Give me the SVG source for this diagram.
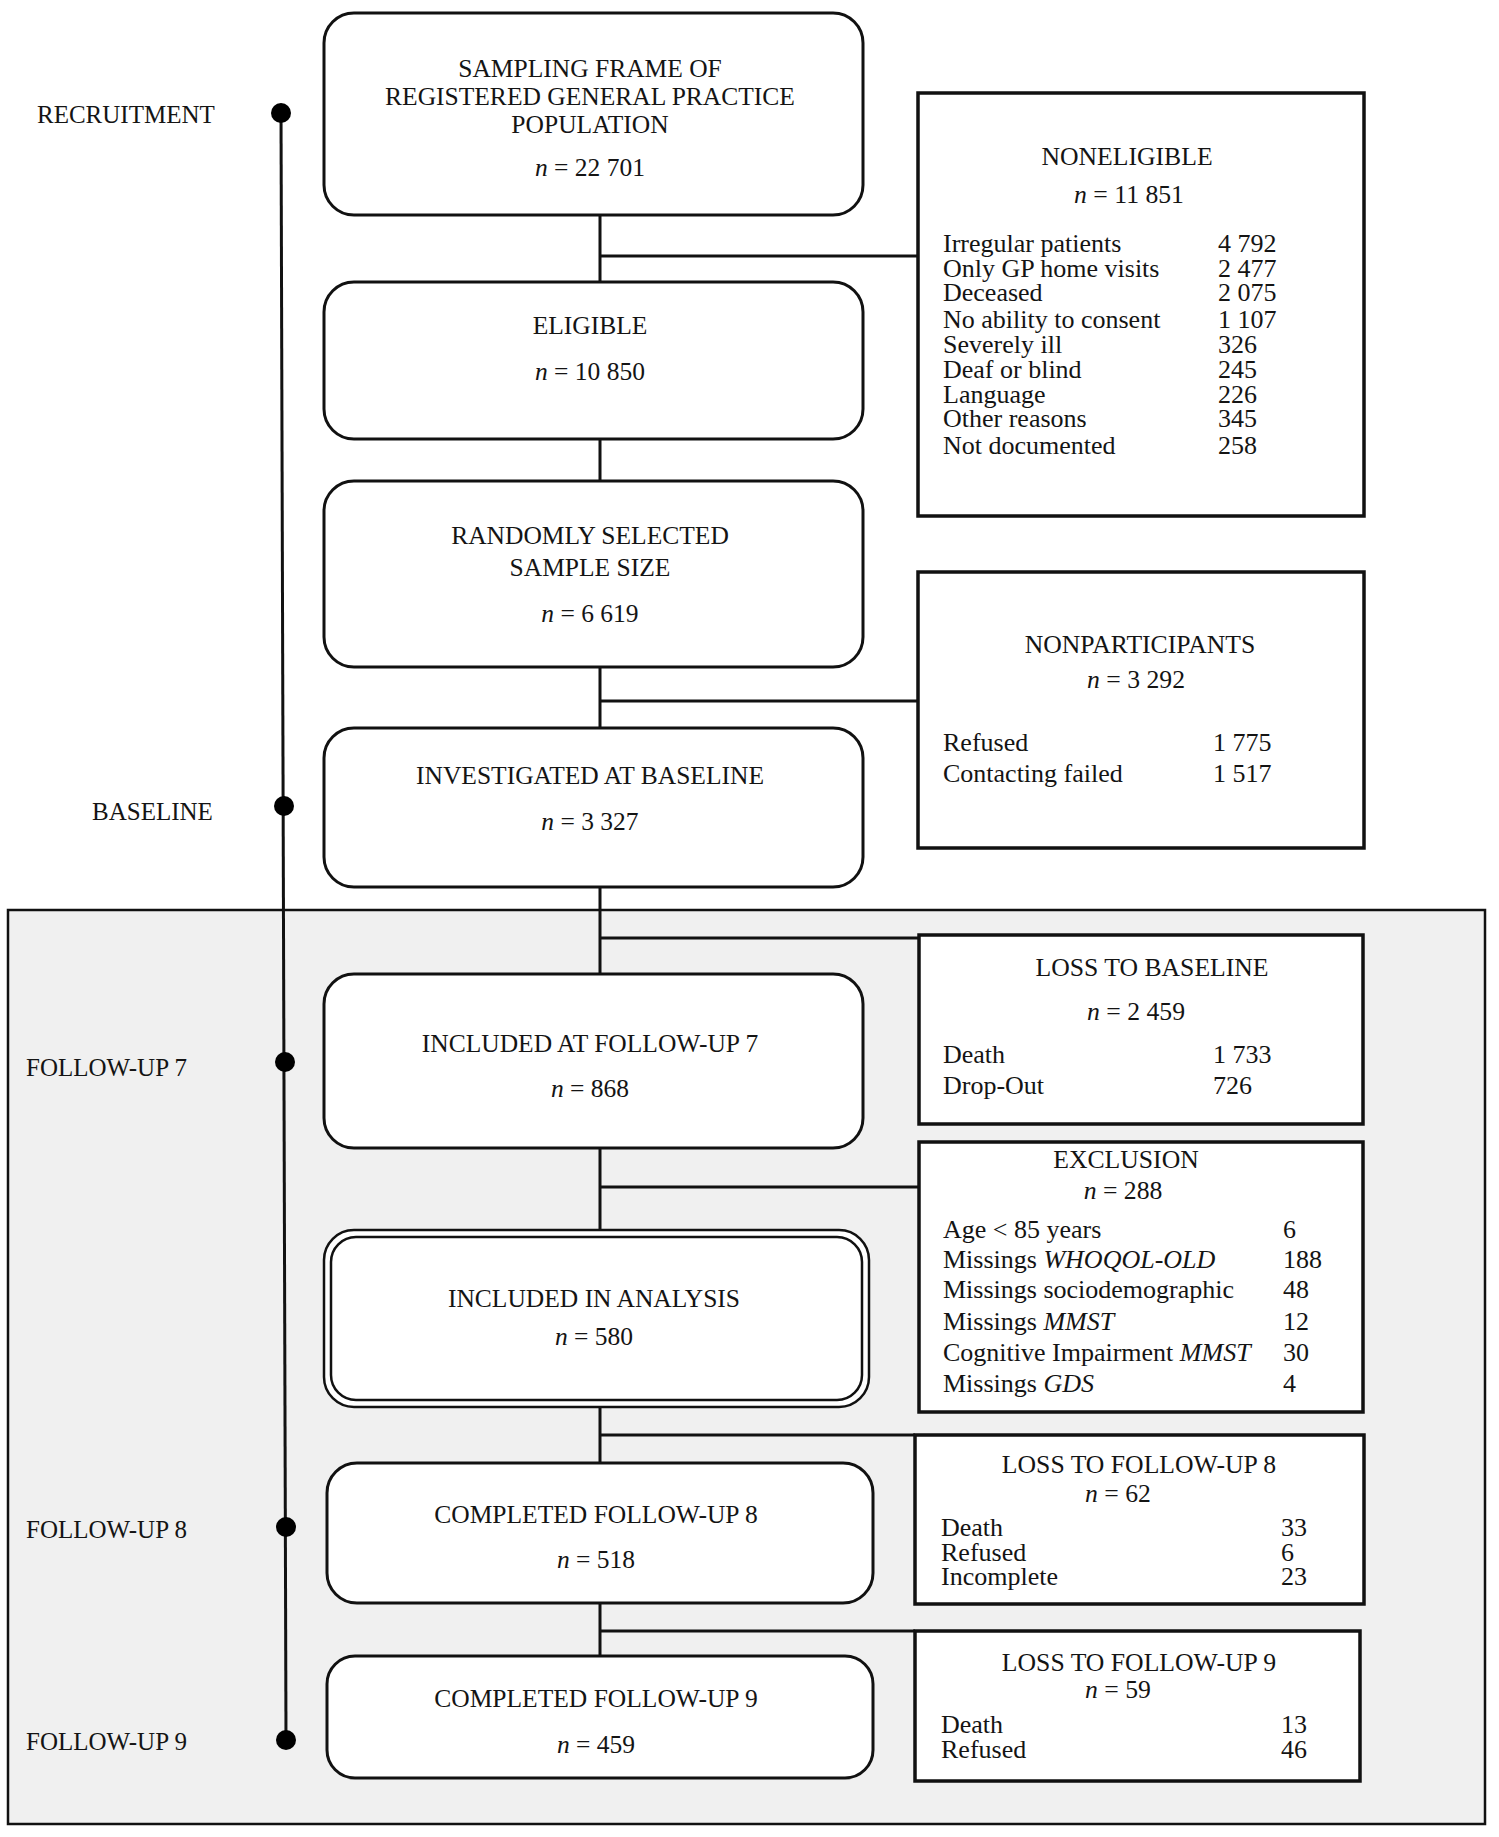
<svg xmlns="http://www.w3.org/2000/svg" width="1499" height="1837" viewBox="0 0 1499 1837">
<style>
text{font-family:"Liberation Serif","Times New Roman",serif;fill:#141414}
.m{font-size:25.5px;text-anchor:middle}
.t{font-size:25.7px;text-anchor:middle}
.i{font-size:26px}
.l{font-size:25px}
.it{font-style:italic}
.node{fill:#fff;stroke:#111;stroke-width:3}
.side{fill:#fff;stroke:#111;stroke-width:3.5}
.con{stroke:#111;stroke-width:3;fill:none}
</style>
<rect id="panel" x="8" y="910" width="1477" height="914" fill="#f0f0f0" stroke="#111" stroke-width="2.5"/>
<g id="timeline">
<line x1="281" y1="113" x2="286" y2="1740" stroke="#111" stroke-width="3"/>
<circle cx="281" cy="113" r="10" fill="#000"/>
<circle cx="284" cy="806" r="10" fill="#000"/>
<circle cx="285" cy="1062" r="10" fill="#000"/>
<circle cx="286" cy="1527" r="10" fill="#000"/>
<circle cx="286" cy="1740" r="10" fill="#000"/>
<text class="l" x="37" y="123">RECRUITMENT</text>
<text class="l" x="92" y="820">BASELINE</text>
<text class="l" x="26" y="1076">FOLLOW-UP 7</text>
<text class="l" x="26" y="1538">FOLLOW-UP 8</text>
<text class="l" x="26" y="1750">FOLLOW-UP 9</text>
</g>
<g id="connectors">
<path class="con" d="M600 214V281M600 256H918M600 440V481M600 667V728M600 701H918M600 887V974M600 938H919M600 1148V1229M600 1187H919M600 1408V1463M600 1435H915M600 1603V1656M600 1631H915"/>
</g>
<g id="n1">
<rect class="node" x="324" y="13" width="539" height="202" rx="30"/>
<text class="m" x="590" y="77">SAMPLING FRAME OF</text>
<text class="m" x="590" y="105">REGISTERED GENERAL PRACTICE</text>
<text class="m" x="590" y="133">POPULATION</text>
<text class="m" x="590" y="176"><tspan class="it">n</tspan> = 22 701</text>
</g>
<g id="n2">
<rect class="node" x="324" y="282" width="539" height="157" rx="30"/>
<text class="m" x="590" y="334">ELIGIBLE</text>
<text class="m" x="590" y="380"><tspan class="it">n</tspan> = 10 850</text>
</g>
<g id="n3">
<rect class="node" x="324" y="481" width="539" height="186" rx="30"/>
<text class="m" x="590" y="544">RANDOMLY SELECTED</text>
<text class="m" x="590" y="576">SAMPLE SIZE</text>
<text class="m" x="590" y="622"><tspan class="it">n</tspan> = 6 619</text>
</g>
<g id="n4">
<rect class="node" x="324" y="728" width="539" height="159" rx="30"/>
<text class="m" x="590" y="784">INVESTIGATED AT BASELINE</text>
<text class="m" x="590" y="830"><tspan class="it">n</tspan> = 3 327</text>
</g>
<g id="n5">
<rect class="node" x="324" y="974" width="539" height="174" rx="30"/>
<text class="m" x="590" y="1052">INCLUDED AT FOLLOW-UP 7</text>
<text class="m" x="590" y="1097"><tspan class="it">n</tspan> = 868</text>
</g>
<g id="n6">
<rect x="324" y="1230" width="545" height="177" rx="30" fill="#fff" stroke="#111" stroke-width="2.5"/>
<rect x="331" y="1237" width="531" height="163" rx="25" fill="none" stroke="#111" stroke-width="2.5"/>
<text class="m" x="594" y="1307">INCLUDED IN ANALYSIS</text>
<text class="m" x="594" y="1345"><tspan class="it">n</tspan> = 580</text>
</g>
<g id="n7">
<rect class="node" x="327" y="1463" width="546" height="140" rx="30"/>
<text class="m" x="596" y="1523">COMPLETED FOLLOW-UP 8</text>
<text class="m" x="596" y="1568"><tspan class="it">n</tspan> = 518</text>
</g>
<g id="n8">
<rect class="node" x="327" y="1656" width="546" height="122" rx="28"/>
<text class="m" x="596" y="1707">COMPLETED FOLLOW-UP 9</text>
<text class="m" x="596" y="1753"><tspan class="it">n</tspan> = 459</text>
</g>
<g id="noneligible">
<rect class="side" x="918" y="93" width="446" height="423"/>
<text class="t" x="1127" y="165">NONELIGIBLE</text>
<text class="t" x="1129" y="203"><tspan class="it">n</tspan> = 11 851</text>
<text class="i" x="943" y="252">Irregular patients</text><text class="i" x="1218" y="252">4 792</text>
<text class="i" x="943" y="277">Only GP home visits</text><text class="i" x="1218" y="277">2 477</text>
<text class="i" x="943" y="301">Deceased</text><text class="i" x="1218" y="301">2 075</text>
<text class="i" x="943" y="328">No ability to consent</text><text class="i" x="1218" y="328">1 107</text>
<text class="i" x="943" y="353">Severely ill</text><text class="i" x="1218" y="353">326</text>
<text class="i" x="943" y="378">Deaf or blind</text><text class="i" x="1218" y="378">245</text>
<text class="i" x="943" y="403">Language</text><text class="i" x="1218" y="403">226</text>
<text class="i" x="943" y="427">Other reasons</text><text class="i" x="1218" y="427">345</text>
<text class="i" x="943" y="454">Not documented</text><text class="i" x="1218" y="454">258</text>
</g>
<g id="nonparticipants">
<rect class="side" x="918" y="572" width="446" height="276"/>
<text class="t" x="1140" y="653">NONPARTICIPANTS</text>
<text class="t" x="1136" y="688"><tspan class="it">n</tspan> = 3 292</text>
<text class="i" x="943" y="751">Refused</text><text class="i" x="1213" y="751">1 775</text>
<text class="i" x="943" y="782">Contacting failed</text><text class="i" x="1213" y="782">1 517</text>
</g>
<g id="lossbaseline">
<rect class="side" x="919" y="935" width="444" height="189"/>
<text class="t" x="1152" y="976">LOSS TO BASELINE</text>
<text class="t" x="1136" y="1020"><tspan class="it">n</tspan> = 2 459</text>
<text class="i" x="943" y="1063">Death</text><text class="i" x="1213" y="1063">1 733</text>
<text class="i" x="943" y="1094">Drop-Out</text><text class="i" x="1213" y="1094">726</text>
</g>
<g id="exclusion">
<rect class="side" x="919" y="1142" width="444" height="270"/>
<text class="t" x="1126" y="1168">EXCLUSION</text>
<text class="t" x="1123" y="1199"><tspan class="it">n</tspan> = 288</text>
<text class="i" x="943" y="1238">Age &lt; 85 years</text><text class="i" x="1283" y="1238">6</text>
<text class="i" x="943" y="1268">Missings <tspan class="it">WHOQOL-OLD</tspan></text><text class="i" x="1283" y="1268">188</text>
<text class="i" x="943" y="1298">Missings sociodemographic</text><text class="i" x="1283" y="1298">48</text>
<text class="i" x="943" y="1330">Missings <tspan class="it">MMST</tspan></text><text class="i" x="1283" y="1330">12</text>
<text class="i" x="943" y="1361">Cognitive Impairment <tspan class="it">MMST</tspan></text><text class="i" x="1283" y="1361">30</text>
<text class="i" x="943" y="1392">Missings <tspan class="it">GDS</tspan></text><text class="i" x="1283" y="1392">4</text>
</g>
<g id="lossfu8">
<rect class="side" x="915" y="1435" width="449" height="169"/>
<text class="t" x="1139" y="1473">LOSS TO FOLLOW-UP 8</text>
<text class="t" x="1118" y="1502"><tspan class="it">n</tspan> = 62</text>
<text class="i" x="941" y="1536">Death</text><text class="i" x="1281" y="1536">33</text>
<text class="i" x="941" y="1561">Refused</text><text class="i" x="1281" y="1561">6</text>
<text class="i" x="941" y="1585">Incomplete</text><text class="i" x="1281" y="1585">23</text>
</g>
<g id="lossfu9">
<rect class="side" x="915" y="1631" width="445" height="150"/>
<text class="t" x="1139" y="1671">LOSS TO FOLLOW-UP 9</text>
<text class="t" x="1118" y="1698"><tspan class="it">n</tspan> = 59</text>
<text class="i" x="941" y="1733">Death</text><text class="i" x="1281" y="1733">13</text>
<text class="i" x="941" y="1758">Refused</text><text class="i" x="1281" y="1758">46</text>
</g>
</svg>
